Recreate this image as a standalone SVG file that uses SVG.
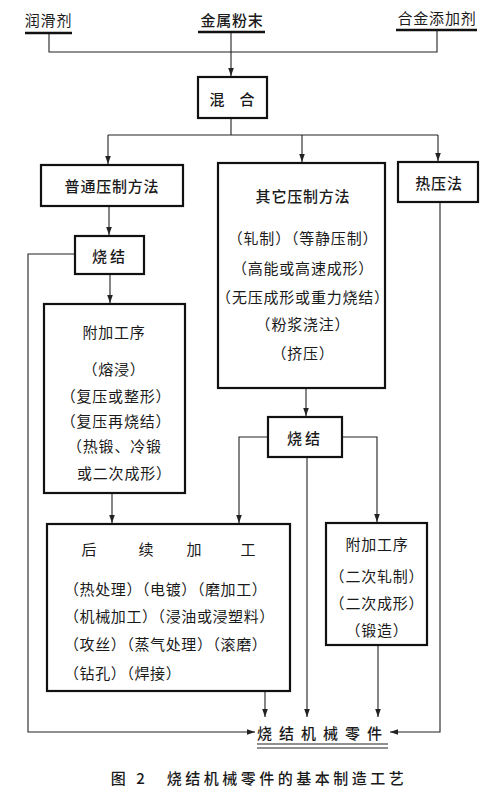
<svg xmlns="http://www.w3.org/2000/svg" width="500" height="791" viewBox="0 0 500 791">
<style>
text{font-family:"Noto Sans CJK SC","Noto Sans CJK JP",sans-serif;font-size:15px;fill:#1a1a1a;text-anchor:middle;dominant-baseline:central;letter-spacing:0.8px}
.h{font-weight:500}
.box{fill:#fff;stroke:#111;stroke-width:2.2}
.ul{stroke:#111;stroke-width:2.4}
.c{fill:none;stroke:#222;stroke-width:1.1}
.l{text-anchor:start}
</style>
<defs>
<marker id="a" viewBox="0 0 10 10" refX="10" refY="5" markerWidth="8" markerHeight="8" markerUnits="userSpaceOnUse" orient="auto">
<path d="M0,1.5 L10,5 L0,8.5 Z" fill="#222"/>
</marker>
</defs>
<rect width="500" height="791" fill="#fff"/>

<g id="connectors">
<path class="c" d="M49,33 V52 H437 V30"/>
<path class="c" d="M231,33 V76" marker-end="url(#a)"/>
<path class="c" d="M231,118 V135 M108,135 H438"/>
<path class="c" d="M108,135 V164" marker-end="url(#a)"/>
<path class="c" d="M302,135 V162" marker-end="url(#a)"/>
<path class="c" d="M438,135 V161" marker-end="url(#a)"/>
<path class="c" d="M109,206 V235" marker-end="url(#a)"/>
<path class="c" d="M110,274 V303" marker-end="url(#a)"/>
<path class="c" d="M75,254 H28 V732 H255" marker-end="url(#a)"/>
<path class="c" d="M112,493 V523" marker-end="url(#a)"/>
<path class="c" d="M306,388 V416" marker-end="url(#a)"/>
<path class="c" d="M268,437 H239 V523" marker-end="url(#a)"/>
<path class="c" d="M342,437 H377 V522" marker-end="url(#a)"/>
<path class="c" d="M307,457 V717" marker-end="url(#a)"/>
<path class="c" d="M265,691 V717" marker-end="url(#a)"/>
<path class="c" d="M378,645 V717" marker-end="url(#a)"/>
<path class="c" d="M440,202 V732 H390" marker-end="url(#a)"/>
</g>

<g id="lubricant">
<text x="48.5" y="19">润滑剂</text>
<line class="ul" x1="25" y1="33" x2="72" y2="33"/>
</g>
<g id="metal-powder">
<text x="232" y="19" class="h">金属粉末</text>
<line class="ul" x1="198" y1="32" x2="265" y2="32"/>
</g>
<g id="alloy-additive">
<text x="437" y="17">合金添加剂</text>
<line class="ul" x1="396" y1="30" x2="477" y2="30"/>
</g>

<g id="mixing">
<rect class="box" x="198" y="77" width="69" height="41"/>
<text x="232" y="98" class="h" style="letter-spacing:0">混　合</text>
</g>

<g id="ordinary-pressing">
<rect class="box" x="41" y="165" width="142" height="41"/>
<text x="112" y="185" class="h">普通压制方法</text>
</g>

<g id="other-pressing">
<rect class="box" x="218" y="163" width="167" height="225"/>
<text x="303" y="195" class="h">其它压制方法</text>
<text x="303" y="237">（轧制）（等静压制）</text>
<text x="303" y="267">（高能或高速成形）</text>
<text x="303" y="296">（无压成形或重力烧结）</text>
<text x="303" y="323">（粉浆浇注）</text>
<text x="303" y="352">（挤压）</text>
</g>

<g id="hot-pressing">
<rect class="box" x="398" y="162" width="80" height="40"/>
<text x="439" y="182" class="h">热压法</text>
</g>

<g id="sintering-1">
<rect class="box" x="75" y="236" width="69" height="38"/>
<text x="110" y="255" class="h" style="letter-spacing:3px">烧结</text>
</g>

<g id="additional-process-1">
<rect class="box" x="44" y="304" width="141" height="189"/>
<text x="114" y="331">附加工序</text>
<text x="114" y="368">（熔浸）</text>
<text x="116" y="395">（复压或整形）</text>
<text x="116" y="420">（复压再烧结）</text>
<text x="67" y="445" class="l">（热锻、冷锻</text>
<text x="77" y="472" class="l">或二次成形）</text>
</g>

<g id="sintering-2">
<rect class="box" x="268" y="417" width="74" height="40"/>
<text x="305" y="437" class="h" style="letter-spacing:3px">烧结</text>
</g>

<g id="post-processing">
<rect class="box" x="47" y="524" width="243" height="167"/>
<text x="89" y="548" style="letter-spacing:0">后</text>
<text x="146" y="548" style="letter-spacing:0">续</text>
<text x="194" y="548" style="letter-spacing:0">加</text>
<text x="248" y="548" style="letter-spacing:0">工</text>
<text x="64" y="588" class="l" style="letter-spacing:0.6px">（热处理）（电镀）（磨加工）</text>
<text x="64" y="615" class="l" style="letter-spacing:0.6px">（机械加工）（浸油或浸塑料）</text>
<text x="64" y="643" class="l" style="letter-spacing:0.6px">（攻丝）（蒸气处理）（滚磨）</text>
<text x="64" y="672" class="l" style="letter-spacing:0.6px">（钻孔）（焊接）</text>
</g>

<g id="additional-process-2">
<rect class="box" x="326" y="523" width="101" height="122"/>
<text x="377" y="543">附加工序</text>
<text x="377" y="575">（二次轧制）</text>
<text x="377" y="602">（二次成形）</text>
<text x="377" y="629">（锻造）</text>
</g>

<g id="sintered-parts">
<text x="323" y="732" style="letter-spacing:7px" class="h">烧结机械零件</text>
<line stroke="#222" stroke-width="1.2" x1="257" y1="744" x2="388" y2="744"/>
<line stroke="#222" stroke-width="1.2" x1="257" y1="748" x2="388" y2="748"/>
</g>

<text x="259" y="777" class="h" style="letter-spacing:3.5px">图 2　烧结机械零件的基本制造工艺</text>
</svg>
